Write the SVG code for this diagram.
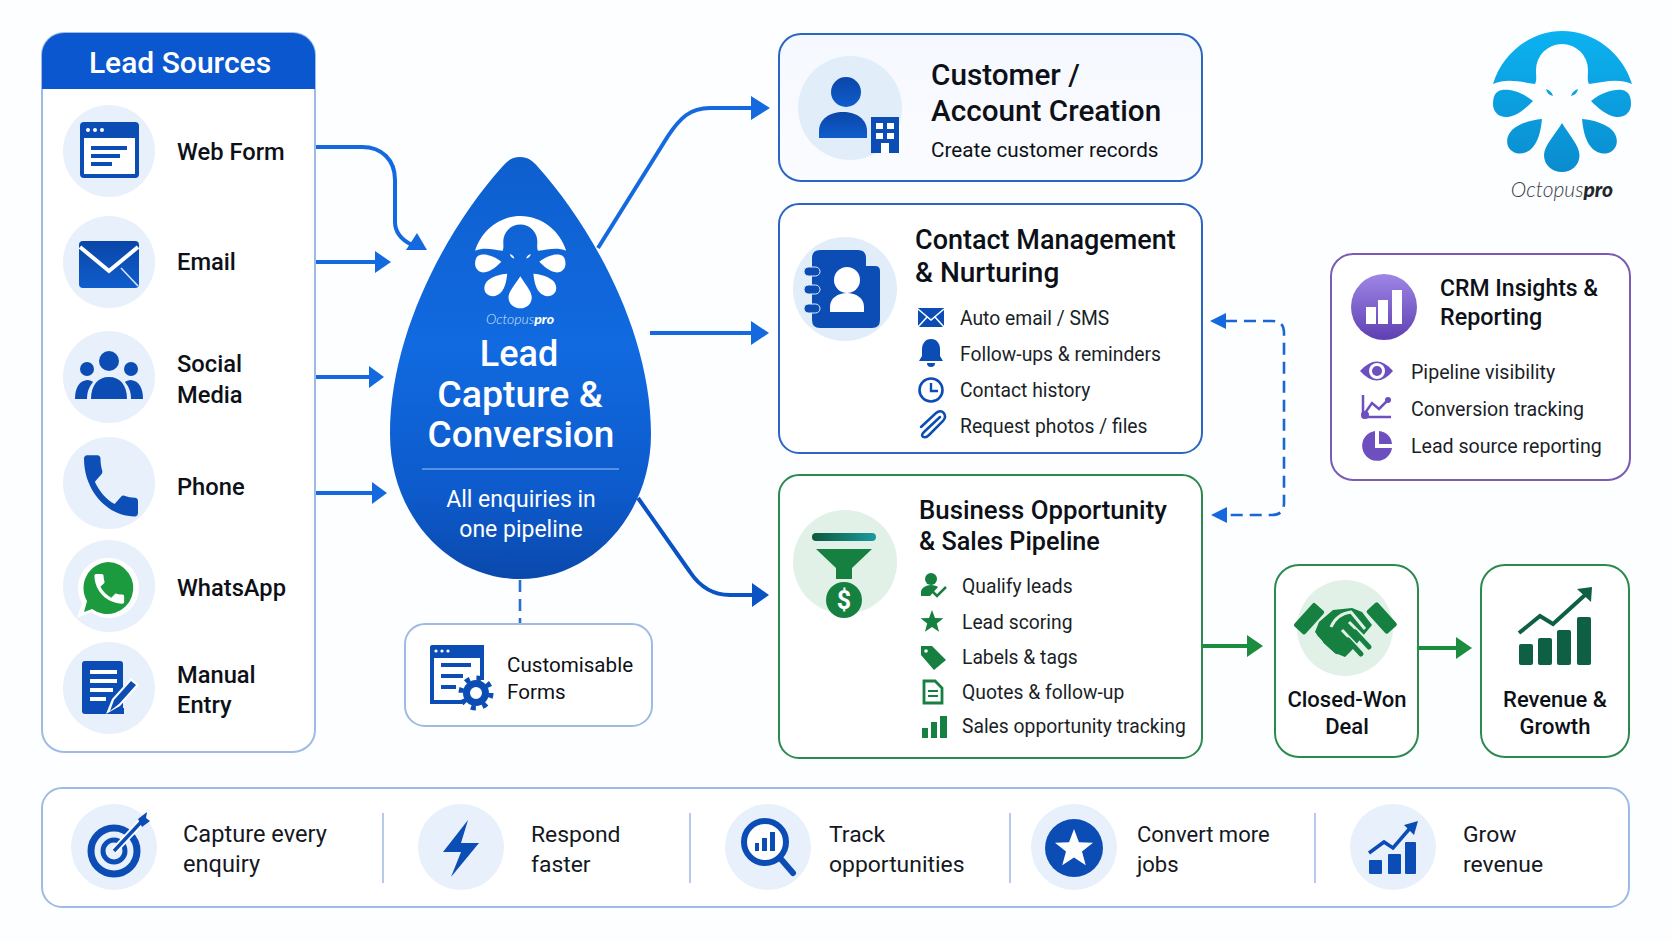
<svg xmlns="http://www.w3.org/2000/svg" width="1672" height="941" viewBox="0 0 1672 941">
<style>
text{font-family:Roboto,"Noto Sans","Liberation Sans",sans-serif;fill:#0d1117}
.src{font-size:23.7px;font-weight:500}
.ttl{font-weight:500}
.itm{font-size:19.3px;font-weight:400;fill:#1a1f28}
.itc{font-size:19.6px;font-weight:400;fill:#1a1f28}
.bot{font-size:22.9px;font-weight:400;fill:#14181f}
.end{font-size:22px;font-weight:500;text-anchor:middle}
.wht{fill:#fff;text-anchor:middle}
.card{fill:#fff;stroke-width:2}
.bl{stroke:#2b66c4}.gr{stroke:#2c8a4e}.pale{stroke:#9fbbe3}
.halo{fill:#e8f0fb}.halog{fill:#e2f1e8}
.db{fill:#0c4db5}.dg{fill:#15803f}.pu{fill:#6d4fc0}
.conn{fill:none;stroke:#1569de;stroke-width:4}
.dash{fill:none;stroke:#1a66d4;stroke-width:2.6;stroke-dasharray:12 7}
.gconn{fill:none;stroke:#1c8c3f;stroke-width:4}
.head{fill:#1569de}.ghead{fill:#1c8c3f}
.logo{font-style:italic;font-family:"Lato","Open Sans",sans-serif;font-weight:300}
.logo tspan{font-weight:900}
</style>
<defs>
<linearGradient id="dropG" x1="0" y1="0" x2="0" y2="1"><stop offset="0" stop-color="#0e5fce"/><stop offset=".45" stop-color="#116ae0"/><stop offset=".8" stop-color="#0d5acb"/><stop offset="1" stop-color="#0a49ac"/></linearGradient>
<linearGradient id="logoG" gradientUnits="userSpaceOnUse" x1="0" y1="31" x2="0" y2="172"><stop offset="0" stop-color="#0cb2f0"/><stop offset="1" stop-color="#0a8ccf"/></linearGradient>
<linearGradient id="iconG" x1="0" y1="0" x2="0" y2="1"><stop offset="0" stop-color="#0a46a8"/><stop offset="1" stop-color="#0f5dcc"/></linearGradient>
<linearGradient id="purG" x1="0" y1="0" x2="0" y2="1"><stop offset="0" stop-color="#9e86e6"/><stop offset="1" stop-color="#5f3fb2"/></linearGradient>
<linearGradient id="barG" x1="0" y1="0" x2="1" y2="0"><stop offset="0" stop-color="#0c5a3c"/><stop offset="1" stop-color="#1a9aa0"/></linearGradient>
<linearGradient id="cardG" x1="0" y1="0" x2="0" y2="1"><stop offset="0" stop-color="#f5f8fe"/><stop offset="1" stop-color="#fbfcff"/></linearGradient>
<polygon id="star" points="0,-1 .247,-.34 .951,-.309 .4,.13 .588,.809 0,.42 -.588,.809 -.4,.13 -.951,-.309 -.247,-.34"/>
<path id="call" d="M6.62 10.79c1.44 2.83 3.76 5.14 6.59 6.59l2.2-2.2c.27-.27.67-.36 1.02-.24 1.12.37 2.33.57 3.57.57.55 0 1 .45 1 1V20c0 .55-.45 1-1 1-9.39 0-17-7.61-17-17 0-.55.45-1 1-1h3.5c.55 0 1 .45 1 1 0 1.25.2 2.45.57 3.57.11.35.03.74-.25 1.02l-2.2 2.2z"/>
<g id="octo">
<path d="M1493 84C1502 54 1530 31 1562 31C1595 31 1623 54 1632 84C1618 78 1604 82 1589 84C1587 80 1588 76 1588 70A26 26 0 0 0 1536 70C1536 76 1537 80 1535 84C1520 82 1507 78 1493 84Z"/>
<path d="M1533 101C1522 92 1510 89 1502 90C1495 91 1493 97 1493 104C1493 112 1499 118 1508 117C1517 116 1526 108 1533 101Z"/>
<path d="M1591 101C1602 92 1614 89 1622 90C1629 91 1631 97 1631 104C1631 112 1625 118 1616 117C1607 116 1598 108 1591 101Z"/>
<path d="M1542 119C1530 120 1518 124 1512 130C1505 137 1506 147 1512 151C1519 156 1528 153 1533 147C1539 140 1541 129 1542 119Z"/>
<path d="M1582 119C1594 120 1606 124 1612 130C1619 137 1618 147 1612 151C1605 156 1596 153 1591 147C1585 140 1583 129 1582 119Z"/>
<path d="M1562 123C1556 133 1544 146 1544 155C1544 165 1552 172 1562 172C1572 172 1579.500 165 1579.500 155C1579.500 146 1568 133 1562 123Z"/>
<path d="M1546 89C1549 90 1552 92 1553 96C1549 95 1547 93 1546 89Z"/>
<path d="M1578 89C1575 90 1572 92 1571 96C1575 95 1577 93 1578 89Z"/>
</g>
</defs>
<rect width="1672" height="941" fill="#fdfeff"/>

<g id="connectors">
<path class="conn" d="M315 147H362C382 147 395 160 395 180V222C395 232 402 240 412 245"/>
<polygon class="head" points="427,250 406,250 417,233"/>
<path class="conn" d="M315 262H377"/><polygon class="head" points="391,262 375,251 375,273"/>
<path class="conn" d="M315 377H371"/><polygon class="head" points="384,377 369,366 369,388"/>
<path class="conn" d="M315 493H374"/><polygon class="head" points="387,493 372,482 372,504"/>
<path class="conn" d="M598 248L668 136C680 118 690 108 710 108H753"/><polygon class="head" points="770,108 751,96 751,120"/>
<path class="conn" d="M650 333H753"/><polygon class="head" points="769,333 751,321 751,345"/>
<path class="conn" style="stroke:#0b52c4" d="M638 498L690 572C700 587 712 595 730 595H753"/><polygon class="head" style="fill:#0b52c4" points="769,595 752,583 752,607"/>
<path class="dash" style="stroke:#2a6fc9" d="M520 580V624"/>
<path class="dash" d="M1225 321H1272Q1284 321 1284 333V503Q1284 515 1272 515H1225"/>
<polygon class="head" points="1210,321 1226,313 1226,329"/><polygon class="head" points="1211,515 1227,507 1227,523"/>
<path class="gconn" d="M1202 646H1249"/><polygon class="ghead" points="1263,646 1247,635 1247,657"/>
<path class="gconn" d="M1418 648H1458"/><polygon class="ghead" points="1472,648 1456,637 1456,659"/>
</g>

<g id="lead-sources">
<rect class="card pale" x="42" y="33" width="273" height="719" rx="22"/>
<path d="M42 89V55A22 22 0 0 1 64 33H293A22 22 0 0 1 315 55V89Z" fill="#0b57cf"/>
<text class="wht" x="180" y="73" style="font-size:30px;font-weight:500">Lead Sources</text>
<g id="src-web"><circle class="halo" cx="109" cy="151" r="46"/>
<rect x="80" y="122" width="59" height="56" rx="4" fill="#0c4db5"/><rect x="84" y="138" width="51" height="36" fill="#fff"/>
<circle cx="88" cy="130" r="2" fill="#fff"/><circle cx="95" cy="130" r="2" fill="#fff"/><circle cx="102" cy="130" r="2" fill="#fff"/>
<rect class="db" x="91" y="146" width="36" height="4"/><rect class="db" x="91" y="154" width="29" height="4"/><rect class="db" x="91" y="162" width="21" height="4"/>
<text class="src" x="177" y="160">Web Form</text></g>
<g id="src-email"><circle class="halo" cx="109" cy="262" r="46"/>
<rect x="79" y="241" width="60" height="47" rx="4" fill="url(#iconG)"/><path d="M80 247L109 271L138 247" fill="none" stroke="#fff" stroke-width="4"/><path d="M121 268L138 286" stroke="#dfe9f8" stroke-width="1.500"/>
<text class="src" x="177" y="270">Email</text></g>
<g id="src-social"><circle class="halo" cx="109" cy="377" r="46"/>
<g class="db"><circle cx="109" cy="361" r="10"/><circle cx="87" cy="369" r="7"/><circle cx="131" cy="369" r="7"/>
<path d="M91 399C91 385 98 377 109 377C120 377 127 385 127 399Z"/><path d="M75 399C75 388 79 381 87 380C90 380 92 381 93 382C89 387 87 392 87 399Z"/><path d="M143 399C143 388 139 381 131 380C128 380 126 381 125 382C129 387 131 392 131 399Z"/></g>
<text class="src" x="177" y="372">Social</text><text class="src" x="177" y="403">Media</text></g>
<g id="src-phone"><circle class="halo" cx="109" cy="483" r="46"/>
<use href="#call" fill="#0d4fb6" transform="translate(75 445) scale(3 3.4)"/>
<text class="src" x="177" y="495">Phone</text></g>
<g id="src-whatsapp"><circle class="halo" cx="109" cy="586" r="46"/>
<path d="M108 558A30 30 0 1 1 91 612L77 618L82 603A30 30 0 0 1 108 558Z" fill="#fff"/>
<path d="M108 562A26 26 0 1 1 92 609L84 612L87 601A26 26 0 0 1 108 562Z" fill="#1c9a3e"/>
<use href="#call" fill="#fff" transform="translate(89.500 569) scale(1.650)"/>
<text class="src" x="177" y="596">WhatsApp</text></g>
<g id="src-manual"><circle class="halo" cx="109" cy="688" r="46"/>
<rect x="82" y="661" width="41" height="53" rx="3" fill="#0c4db5"/>
<g fill="#fff"><rect x="90" y="670" width="27" height="4"/><rect x="90" y="679" width="27" height="4"/><rect x="90" y="688" width="23" height="4"/><rect x="90" y="697" width="16" height="4"/></g>
<path d="M106 714L112 699L131 678L139 685L120 706Z" fill="#fff"/><path d="M110 711L114 700L131 681L136 685L119 704Z" class="db"/><rect class="db" x="116" y="708" width="8" height="6"/>
<text class="src" x="177" y="683">Manual</text><text class="src" x="177" y="713">Entry</text></g>
</g>

<g id="lead-capture">
<path d="M520 157C512 157 507 161 502 167C450 225 390 330 390 434C390 515 448 579 520 579C592 579 651 515 651 434C651 330 590 225 538 167C533 161 528 157 520 157Z" fill="url(#dropG)"/>
<use href="#octo" fill="#fff" transform="translate(-502.800 195.700) scale(.655)"/>
<text class="logo" x="520" y="324" text-anchor="middle" style="font-size:14px;fill:#cfe2fb">Octopus<tspan style="fill:#fff">pro</tspan></text>
<g style="font-weight:500"><text class="wht" x="519" y="366" style="font-size:36px">Lead</text>
<text class="wht" x="520" y="407" style="font-size:37.500px">Capture &amp;</text>
<text class="wht" x="521" y="447" style="font-size:37px">Conversion</text></g>
<path d="M422 469H619" stroke="#6ea3ef" stroke-width="1.500"/>
<text class="wht" x="521" y="507" style="font-size:23px">All enquiries in</text>
<text class="wht" x="521" y="537" style="font-size:23px">one pipeline</text>
</g>

<g id="custom-forms">
<rect class="card pale" x="405" y="624" width="247" height="102" rx="20"/>
<path d="M432 647H482V680M462 702H432V647" fill="none" stroke="#0c4db5" stroke-width="4"/><rect class="db" x="430" y="645" width="54" height="13" rx="2"/>
<circle cx="436" cy="651" r="1.600" fill="#fff"/><circle cx="442" cy="651" r="1.600" fill="#fff"/><circle cx="448" cy="651" r="1.600" fill="#fff"/>
<rect class="db" x="441" y="663" width="30" height="4"/><rect class="db" x="441" y="674" width="22" height="4"/><rect class="db" x="441" y="685" width="15" height="4"/>
<circle cx="476" cy="693" r="9.500" fill="none" stroke="#0c4db5" stroke-width="7"/><circle cx="476" cy="693" r="15" fill="none" stroke="#0c4db5" stroke-width="5" stroke-dasharray="5 6.780"/>
<text x="507" y="672" style="font-size:20.600px">Customisable</text><text x="507" y="699" style="font-size:20.600px">Forms</text>
</g>

<g id="customer-account">
<rect class="card bl" x="779" y="34" width="423" height="147" rx="22" style="fill:url(#cardG)"/>
<circle cx="850" cy="108" r="52" fill="#e2edfa"/>
<circle cx="846" cy="92" r="15" fill="url(#iconG)"/><path d="M819 138V131C819 119 830 112 843 112C856 112 867 119 867 131V138Z" fill="url(#iconG)"/>
<rect class="db" x="871" y="117" width="28" height="36"/><g fill="#fff"><rect x="876" y="123" width="7" height="6"/><rect x="887" y="123" width="7" height="6"/><rect x="876" y="133" width="7" height="6"/><rect x="887" y="133" width="7" height="6"/><rect x="881" y="143" width="8" height="10"/></g>
<text x="931" y="85" style="font-size:29.700px;font-weight:500">Customer /</text>
<text x="931" y="121" style="font-size:29.700px;font-weight:500">Account Creation</text>
<text x="931" y="157" style="font-size:20.700px">Create customer records</text>
</g>

<g id="contact-management">
<rect class="card bl" x="779" y="204" width="423" height="249" rx="20"/>
<circle cx="845" cy="289" r="52" fill="#e2edfa"/>
<path d="M812 258Q812 250 820 250H858Q866 250 866 258V266H875Q880 266 880 271V320Q880 328 872 328H820Q812 328 812 320Z" class="db"/>
<g class="db" stroke="#e2edfa" stroke-width="1"><rect x="804" y="267" width="16" height="9" rx="4.500"/><rect x="804" y="285" width="16" height="9" rx="4.500"/><rect x="804" y="304" width="16" height="9" rx="4.500"/></g>
<circle cx="847" cy="280" r="13" fill="#fff"/><path d="M830 312V307C830 298 838 293 847 293C856 293 864 298 864 307V312Z" fill="#fff"/>
<text class="ttl" x="915" y="249" style="font-size:27px">Contact Management</text><text class="ttl" x="915" y="282" style="font-size:28px">&amp; Nurturing</text>
<g><rect class="db" x="918" y="308" width="26" height="19"/><path d="M918 309L931 320L944 309M918 327L927 317M944 327L935 317" fill="none" stroke="#fff" stroke-width="1.500"/></g>
<text class="itm" x="960" y="325">Auto email / SMS</text>
<path class="db" d="M931 339C925 339 922 344 922 349V356L919 361H943L940 356V349C940 344 937 339 931 339Z"/><path class="db" d="M927 363H935A4 4 0 0 1 927 363Z"/>
<text class="itm" x="960" y="361">Follow-ups &amp; reminders</text>
<circle cx="931" cy="390" r="11.500" fill="none" stroke="#0c4db5" stroke-width="2.600"/><path d="M931 383V391H938" fill="none" stroke="#0c4db5" stroke-width="2.400"/>
<text class="itm" x="960" y="397">Contact history</text>
<path d="M940 418L924 433C919 438 925 440 929 436L943 422C948 416 942 409 936 414L921 428" transform="translate(0 -1)" fill="none" stroke="#0c4db5" stroke-width="2.500" stroke-linecap="round"/>
<text class="itm" x="960" y="433">Request photos / files</text>
</g>

<g id="business-opportunity">
<rect class="card gr" x="779" y="475" width="423" height="283" rx="20"/>
<circle class="halog" cx="845" cy="562" r="52"/>
<rect x="812" y="533" width="64" height="8" rx="4" fill="url(#barG)"/>
<path d="M816 549H872L852 568V579H836V568Z" class="dg"/>
<circle class="dg" cx="844" cy="600" r="18"/>
<text x="844" y="609" text-anchor="middle" style="font-size:25px;font-weight:700;fill:#fff">$</text>
<text class="ttl" x="919" y="519" style="font-size:25.800px">Business Opportunity</text><text class="ttl" x="919" y="550" style="font-size:25.200px">&amp; Sales Pipeline</text>
<g class="dg"><circle cx="931" cy="579" r="6"/><path d="M921 596V592C921 588 926 585 931 585C934 585 937 586 938 587L930 596Z"/></g><path d="M932 591L937 596L946 587" fill="none" stroke="#15803f" stroke-width="2.500"/>
<text class="itm" x="962" y="593">Qualify leads</text>
<use href="#star" class="dg" transform="translate(932 622) scale(12)"/>
<text class="itm" x="962" y="629">Lead scoring</text>
<path class="dg" d="M921 646H932L946 660L934 670L921 655Z"/><circle cx="926" cy="651" r="1.800" fill="#fff"/>
<text class="itm" x="962" y="664">Labels &amp; tags</text>
<path d="M924 681H935L942 688V703H924Z" fill="none" stroke="#15803f" stroke-width="2.800"/><path d="M928 691H938M928 696H938" stroke="#15803f" stroke-width="2"/>
<text class="itm" x="962" y="699">Quotes &amp; follow-up</text>
<g class="dg"><rect x="922" y="728" width="6" height="10"/><rect x="931" y="722" width="6" height="16"/><rect x="940" y="716" width="7" height="22"/></g>
<text class="itm" x="962" y="733">Sales opportunity tracking</text>
</g>

<g id="closed-won">
<rect class="card gr" x="1275" y="565" width="143" height="192" rx="24"/>
<circle class="halog" cx="1345" cy="628" r="48"/>
<g fill="#15803f">
<rect x="1302" y="603" width="15" height="31" transform="rotate(42 1309 618)" rx="2"/>
<rect x="1374" y="603" width="15" height="31" transform="rotate(-42 1381 618)" rx="2"/>
<path d="M1319 622L1333 610L1352 608L1362 612L1372 625L1362 637L1352 650L1345 657L1335 653L1324 643L1315 632Z"/>
</g>
<path d="M1331 627C1335 618 1343 613 1351 612L1365 629M1349 622L1369 642M1342 630L1360 649" fill="none" stroke="#e2f1e8" stroke-width="3"/>
<path d="M1326 641L1337 651M1320 634L1331 645" fill="none" stroke="#15803f" stroke-width="6" stroke-linecap="round"/>
<path d="M1348 640L1361 654M1355 632L1369 647" fill="none" stroke="#15803f" stroke-width="5" stroke-linecap="round"/>
<text class="end" x="1347" y="707">Closed-Won</text><text class="end" x="1347" y="734">Deal</text>
</g>

<g id="revenue-growth">
<rect class="card gr" x="1481" y="565" width="148" height="192" rx="24"/>
<g fill="#0e5f43"><rect x="1519" y="644" width="14" height="21" rx="2"/><rect x="1538" y="638" width="14" height="27" rx="2"/><rect x="1557" y="630" width="14" height="35" rx="2"/><rect x="1577" y="617" width="14" height="48" rx="2"/>
<polygon points="1592,587 1577,589 1591,602"/></g>
<path d="M1519 633L1540 616L1553 624L1585 595" fill="none" stroke="#0e5f43" stroke-width="4"/>
<text class="end" x="1555" y="707">Revenue &amp;</text><text class="end" x="1555" y="734">Growth</text>
</g>

<g id="crm-insights">
<rect class="card" style="stroke:#7a5bb5" x="1331" y="254" width="299" height="226" rx="22"/>
<circle cx="1384" cy="307" r="33" fill="url(#purG)"/><g fill="#fff"><rect x="1366" y="307" width="10" height="17"/><rect x="1378" y="300" width="10" height="24"/><rect x="1392" y="290" width="10" height="34"/></g>
<text x="1440" y="296" style="font-size:23px;font-weight:500">CRM Insights &amp;</text><text x="1440" y="325" style="font-size:23.300px;font-weight:500">Reporting</text>
<path class="pu" d="M1360 371Q1377 352 1393 371Q1377 390 1360 371Z"/><circle cx="1377" cy="371" r="8" fill="#fff"/><circle class="pu" cx="1377" cy="371" r="5"/>
<text class="itc" x="1411" y="379">Pipeline visibility</text>
<path d="M1363 395V417H1391M1365 413L1372 403L1379 409L1389 399" fill="none" stroke="#6d4fc0" stroke-width="2.500"/><circle class="pu" cx="1365" cy="415" r="4"/><circle class="pu" cx="1388" cy="400" r="3"/>
<text class="itc" x="1411" y="416">Conversion tracking</text>
<path class="pu" d="M1375 431V448H1392A15 15 0 1 1 1375 431Z"/><path class="pu" d="M1379 431A14 14 0 0 1 1392 444H1379Z"/>
<text class="itc" x="1411" y="453">Lead source reporting</text>
</g>

<g id="octopuspro-logo">
<use href="#octo" fill="url(#logoG)"/>
<text class="logo" x="1562" y="197" text-anchor="middle" style="font-size:21px;fill:#3a3f46">Octopus<tspan style="fill:#23272d">pro</tspan></text>
</g>

<g id="benefits">
<rect class="card pale" x="42" y="788" width="1587" height="119" rx="20"/>
<path class="pale" stroke-width="1.500" d="M383 813V883M690 813V883M1010 813V883M1315 813V883" fill="none"/>
<circle class="halo" cx="114" cy="847" r="43"/><circle class="halo" cx="461" cy="847" r="43"/><circle class="halo" cx="768" cy="847" r="43"/><circle class="halo" cx="1074" cy="847" r="43"/><circle class="halo" cx="1393" cy="847" r="43"/>
<g id="b-capture"><g fill="none" stroke="#0c4db5"><circle cx="114" cy="851" r="23" stroke-width="7"/><circle cx="114" cy="851" r="11" stroke-width="5"/></g>
<path d="M114 851L143 820" stroke="#fff" stroke-width="7"/><path d="M114 851L143 820" stroke="#0c4db5" stroke-width="3.500"/><polygon class="db" points="138,819 147,812 146,818 150,821 142,827"/>
<text class="bot" x="183" y="842" style="font-size:23.600px">Capture every</text><text class="bot" x="183" y="872" style="font-size:23.600px">enquiry</text></g>
<g id="b-respond"><polygon class="db" points="468,820 443,852 461,852 451,877 479,843 461,843"/>
<text class="bot" x="531" y="842">Respond</text><text class="bot" x="531" y="872">faster</text></g>
<g id="b-track"><circle cx="765" cy="842" r="21" fill="#fff" stroke="#0c4db5" stroke-width="6"/><path d="M780 858L793 873" stroke="#0c4db5" stroke-width="6" stroke-linecap="round"/>
<g class="db"><rect x="755" y="843" width="4" height="8"/><rect x="762" y="838" width="5" height="13"/><rect x="770" y="832" width="5" height="19"/></g>
<text class="bot" x="829" y="842">Track</text><text class="bot" x="829" y="872">opportunities</text></g>
<g id="b-convert"><circle class="db" cx="1074" cy="848" r="29"/><use href="#star" fill="#fff" transform="translate(1074 849) scale(20)"/>
<text class="bot" x="1137" y="842" style="font-size:22px">Convert more</text><text class="bot" x="1137" y="872" style="font-size:22px">jobs</text></g>
<g id="b-grow"><g class="db"><rect x="1369" y="860" width="13" height="14" rx="1"/><rect x="1388" y="854" width="13" height="20" rx="1"/><rect x="1405" y="842" width="11" height="32" rx="1"/><polygon points="1418,821 1404,825 1414,835"/></g>
<path d="M1369 853L1384 842L1393 848L1411 827" fill="none" stroke="#0c4db5" stroke-width="3.500"/>
<text class="bot" x="1463" y="842">Grow</text><text class="bot" x="1463" y="872">revenue</text></g>
</g>
</svg>
